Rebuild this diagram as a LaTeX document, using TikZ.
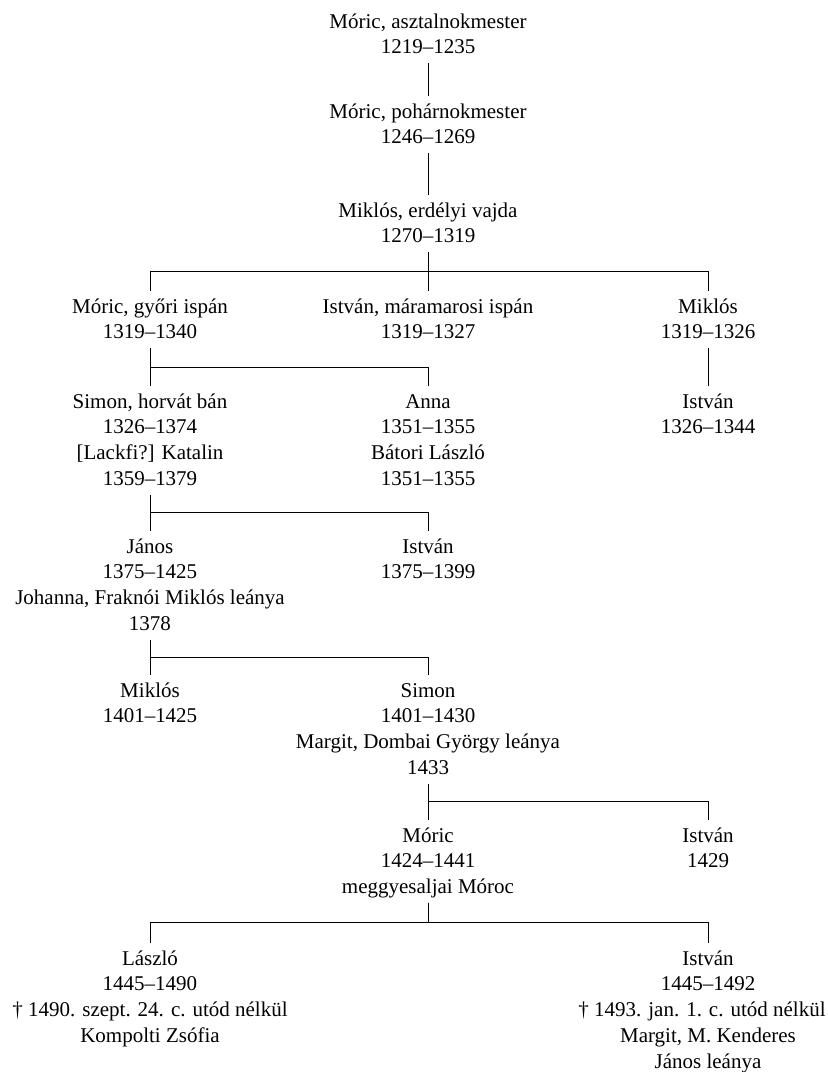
\documentclass[tikz,border=0pt]{standalone}
\usepackage{fontspec}
\setmainfont{Liberation Serif}
\usetikzlibrary{calc}
\newcommand\famfs{\fontsize{21pt}{25.7pt}\selectfont}
\newcommand\lstr{\rule[-6.7pt]{0pt}{25.7pt}}
\tikzset{
  person/.style={anchor=north, inner sep=0pt, align=center, font=\famfs},
  tie/.style={line width=1pt, black},
}
\begin{document}
\begin{tikzpicture}[x=1pt,y=-1pt]
\useasboundingbox[fill=white] (0,0) rectangle (828,1072);
% generation 0-2
\node[person] (g0) at (428,9) {\lstr Móric, asztalnokmester\\\lstr 1219–1235};
\node[person] (g1) at (428,99) {\lstr Móric, pohárnokmester\\\lstr 1246–1269};
\node[person] (g2) at (428,198) {\lstr Miklós, erdélyi vajda\\\lstr 1270–1319};
% generation 3
\node[person] (g3l) at (150,294) {\lstr Móric, győri ispán\\\lstr 1319–1340};
\node[person] (g3m) at (428,294) {\lstr István, máramarosi ispán\\\lstr 1319–1327};
\node[person] (g3r) at (708,294) {\lstr Miklós\\\lstr 1319–1326};
% generation 4
\node[person] (g4l) at (150,389) {\lstr Simon, horvát bán\\\lstr 1326–1374\\\lstr [Lackfi?] Katalin\\\lstr 1359–1379};
\node[person] (g4m) at (428,389) {\lstr Anna\\\lstr 1351–1355\\\lstr Bátori László\\\lstr 1351–1355};
\node[person] (g4r) at (708,389) {\lstr István\\\lstr 1326–1344};
% generation 5
\node[person] (g5l) at (150,534) {\lstr János\\\lstr 1375–1425\\\lstr Johanna, Fraknói Miklós leánya\\\lstr 1378};
\node[person] (g5m) at (428,534) {\lstr István\\\lstr 1375–1399};
% generation 6
\node[person] (g6l) at (150,678) {\lstr Miklós\\\lstr 1401–1425};
\node[person] (g6m) at (428,678) {\lstr Simon\\\lstr 1401–1430\\\lstr Margit, Dombai György leánya\\\lstr 1433};
% generation 7
\node[person] (g7m) at (428,823) {\lstr Móric\\\lstr 1424–1441\\\lstr meggyesaljai Móroc};
\node[person] (g7r) at (708,823) {\lstr István\\\lstr 1429};
% generation 8
\node[person] (g8l) at (150,946) {\lstr László\\\lstr 1445–1490\\\lstr † 1490. szept. 24. c. utód nélkül\\\lstr Kompolti Zsófia};
\node[person] (g8r) at (708,946) {\lstr István\\\lstr 1445–1492\\\hspace*{-12pt}\lstr † 1493. jan. 1. c. utód nélkül\\\lstr Margit, M. Kenderes\\\lstr János leánya};

% connector end points
\foreach \n in {g0,g1,g2,g3l,g3r,g4l,g5l,g6m,g7m}{
  \coordinate (\n-b) at ([yshift=-2.3pt]\n.south);
}
\foreach \n in {g1,g2,g3l,g3m,g3r,g4l,g4m,g4r,g5l,g5m,g6l,g6m,g7m,g7r,g8l,g8r}{
  \coordinate (\n-t) at ([yshift=3pt]\n.north);
}
% straight lines
\draw[tie] (g0-b) -- (g1-t);
\draw[tie] (g1-b) -- (g2-t);
\draw[tie] (g3r-b) -- (g4r-t);
% g2 -> g3
\coordinate (bar2) at ($(g2-b)!0.5!(g3m-t)$);
\draw[tie] (g2-b) -- (g3m-t);
\draw[tie] (g3l-t) -- (g3l-t |- bar2) -- (g3r-t |- bar2) -- (g3r-t);
% g3l -> g4
\coordinate (bar3) at ($(g3l-b)!0.5!(g4l-t)$);
\draw[tie] (g3l-b) -- (g4l-t);
\draw[tie] (bar3) -- (g4m-t |- bar3) -- (g4m-t);
% g4l -> g5
\coordinate (bar4) at ($(g4l-b)!0.5!(g5l-t)$);
\draw[tie] (g4l-b) -- (g5l-t);
\draw[tie] (bar4) -- (g5m-t |- bar4) -- (g5m-t);
% g5l -> g6
\coordinate (bar5) at ($(g5l-b)!0.5!(g6l-t)$);
\draw[tie] (g5l-b) -- (g6l-t);
\draw[tie] (bar5) -- (g6m-t |- bar5) -- (g6m-t);
% g6m -> g7
\coordinate (bar6) at ($(g6m-b)!0.5!(g7m-t)$);
\draw[tie] (g6m-b) -- (g7m-t);
\draw[tie] (bar6) -- (g7r-t |- bar6) -- (g7r-t);
% g7m -> g8
\coordinate (bar7) at ($(g7m-b)!0.5!(g8l-t)$);
\draw[tie] (g7m-b) -- (g7m-b |- bar7);
\draw[tie] (g8l-t) -- (g8l-t |- bar7) -- (g8r-t |- bar7) -- (g8r-t);
\end{tikzpicture}
\end{document}
